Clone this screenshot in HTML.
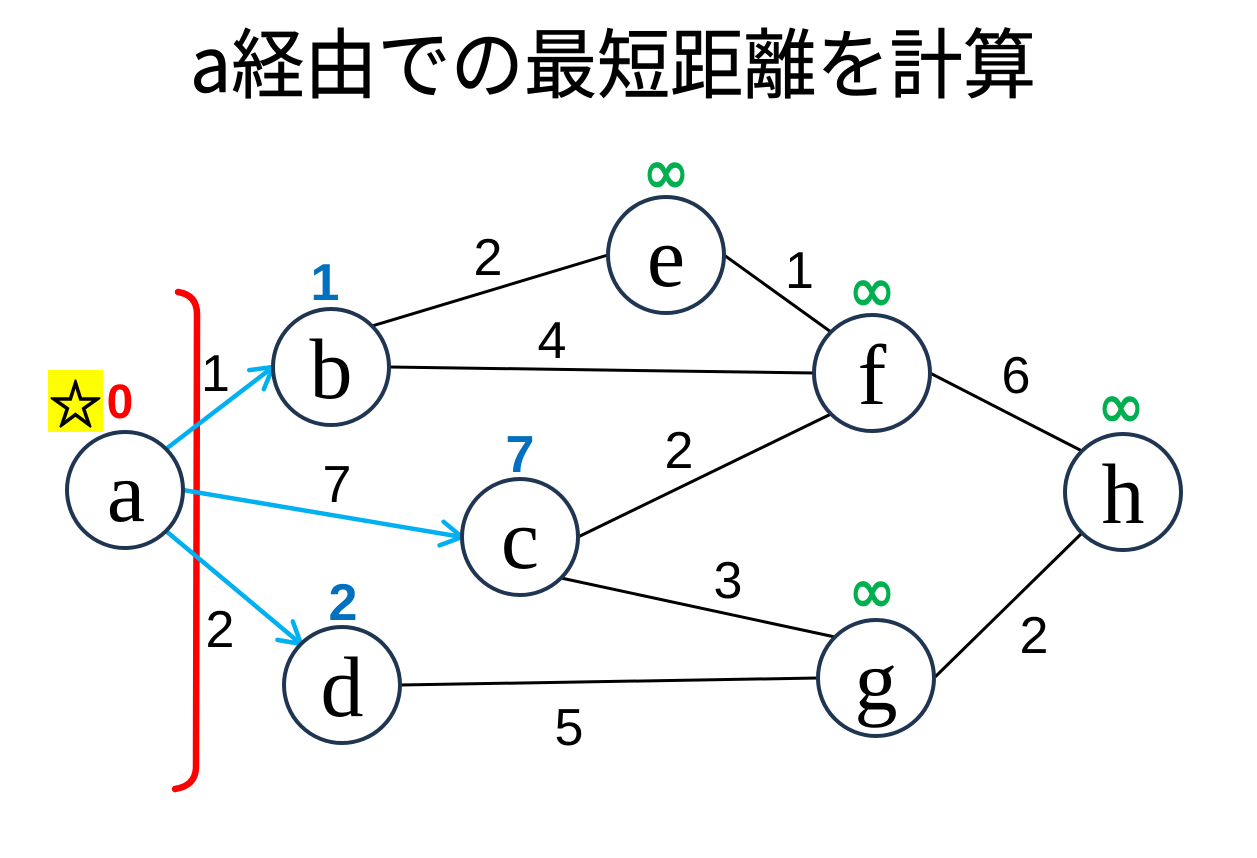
<!DOCTYPE html>
<html>
<head>
<meta charset="utf-8">
<style>
html,body{margin:0;padding:0;background:#fff;}
body{width:1257px;height:858px;overflow:hidden;}
svg{display:block;}
</style>
</head>
<body>
<svg width="1257" height="858" viewBox="0 0 1257 858" xmlns="http://www.w3.org/2000/svg">
  <rect width="1257" height="858" fill="#ffffff"/>

  <!-- Title -->
  <text x="190" y="92" font-family="'Noto Sans CJK JP', 'Liberation Sans', sans-serif" font-size="76" fill="#000" stroke="#000" stroke-width="0.6" textLength="846" lengthAdjust="spacingAndGlyphs">a経由での最短距離を計算</text>

  <!-- Red bracket -->
  <path d="M178,292 Q197,295 197,314 L196,768 Q195,786 175,789" fill="none" stroke="#ff0000" stroke-width="6.5" stroke-linecap="round"/>

  <!-- Black edges -->
  <g stroke="#000" stroke-width="3" fill="none">
    <line x1="372" y1="326" x2="608" y2="255"/>
    <line x1="389" y1="367" x2="814" y2="373"/>
    <line x1="724" y1="255" x2="831" y2="332"/>
    <line x1="930" y1="373" x2="1082" y2="451"/>
    <line x1="578" y1="537" x2="831" y2="414"/>
    <line x1="561" y1="578" x2="835" y2="637"/>
    <line x1="400" y1="685" x2="818" y2="678"/>
    <line x1="934" y1="678" x2="1082" y2="533"/>
  </g>

  <!-- Blue arrows -->
  <g stroke="#00b0f0" stroke-width="4.5" fill="none" stroke-linecap="round" stroke-linejoin="round">
    <line x1="166" y1="449" x2="273" y2="367"/>
    <polyline points="249.2,370.1 273,367 263.8,389.2"/>
    <line x1="183" y1="490" x2="462" y2="537"/>
    <polyline points="443.5,521.7 462,537 439.5,545.4"/>
    <line x1="166" y1="531" x2="301" y2="644"/>
    <polyline points="292.8,621.4 301,644 277.4,639.9"/>
  </g>

  <!-- Nodes -->
  <g fill="#ffffff" stroke="#1f3552" stroke-width="4">
    <circle cx="125" cy="490" r="58"/>
    <circle cx="331" cy="367" r="58"/>
    <circle cx="520" cy="537" r="58"/>
    <circle cx="342" cy="685" r="58"/>
    <circle cx="666" cy="255" r="58"/>
    <circle cx="872" cy="373" r="58"/>
    <circle cx="876" cy="678" r="58"/>
    <circle cx="1123" cy="492" r="58"/>
  </g>

  <!-- Node letters -->
  <g font-family="'Liberation Serif', serif" font-size="86" fill="#000" text-anchor="middle">
    <text x="126" y="521">a</text>
    <text x="331" y="398">b</text>
    <text x="520" y="568">c</text>
    <text x="342" y="716">d</text>
    <text x="666" y="286">e</text>
    <text x="872" y="404">f</text>
    <text x="876" y="709">g</text>
    <text x="1123" y="523">h</text>
  </g>

  <!-- Edge weights -->
  <g font-family="'Liberation Sans', sans-serif" font-size="52" fill="#000" text-anchor="middle">
    <text x="215.5" y="391">1</text>
    <text x="337" y="502">7</text>
    <text x="220" y="647">2</text>
    <text x="488" y="275">2</text>
    <text x="552" y="358">4</text>
    <text x="799.5" y="288">1</text>
    <text x="1016" y="393">6</text>
    <text x="679" y="468">2</text>
    <text x="728" y="598">3</text>
    <text x="569" y="745">5</text>
    <text x="1034" y="653">2</text>
  </g>

  <!-- Blue distances -->
  <g font-family="'Liberation Sans', sans-serif" font-size="52" font-weight="bold" fill="#0070c0" text-anchor="middle">
    <text x="325" y="300">1</text>
    <text x="520" y="472">7</text>
    <text x="343" y="620">2</text>
  </g>

  <!-- Start marker -->
  <rect x="48" y="370" width="55" height="62" fill="#ffff00"/>
  <text x="75.5" y="401" font-family="'Noto Sans CJK JP', 'DejaVu Sans', sans-serif" font-size="52" fill="#000" stroke="#000" stroke-width="1.6" text-anchor="middle" dominant-baseline="central">☆</text>
  <text x="120" y="418" font-family="'Liberation Sans', sans-serif" font-size="48" font-weight="bold" fill="#ff0000" text-anchor="middle">0</text>

  <!-- Infinity marks -->
  <g font-family="'DejaVu Sans', sans-serif" font-size="64" fill="#00b050" stroke="#00b050" stroke-width="1.4" dominant-baseline="central">
    <text x="642" y="173" textLength="48" lengthAdjust="spacingAndGlyphs">∞</text>
    <text x="848" y="291" textLength="48" lengthAdjust="spacingAndGlyphs">∞</text>
    <text x="848" y="592" textLength="48" lengthAdjust="spacingAndGlyphs">∞</text>
    <text x="1097" y="407" textLength="48" lengthAdjust="spacingAndGlyphs">∞</text>
  </g>
</svg>
</body>
</html>
